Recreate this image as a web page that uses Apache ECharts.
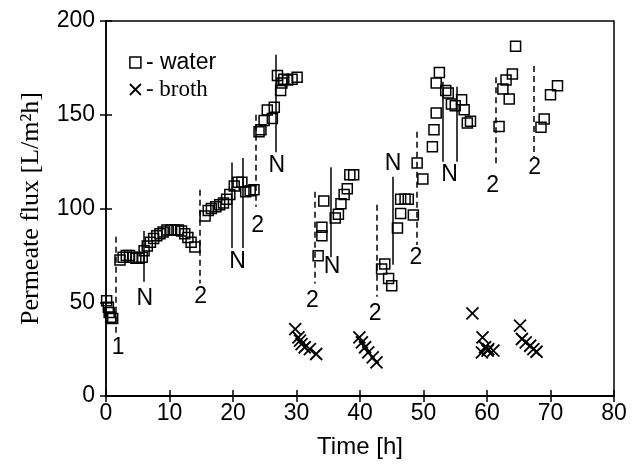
<!DOCTYPE html>
<html>
<head>
<meta charset="utf-8">
<script src="https://cdn.jsdelivr.net/npm/echarts@6/dist/echarts.min.js"></script>
<style>html,body{margin:0;padding:0;background:#fff;}#c{width:632px;height:468px;}</style>
</head>
<body>
<div id="c"></div>
<script>
// Water (permeate flux of water) data
const waterX = [0.1,0.37,0.5,0.74,1.05,
  2.2,2.7,3.2,3.7,4.2,4.7,5.2,5.7,6.0,6.5,7.0,7.5,8.0,8.5,9.0,9.6,10.2,10.8,11.4,11.9,12.4,12.9,13.4,14.0,
  15.6,16.1,16.6,17.3,17.9,18.5,19.0,19.5,20.2,20.8,21.4,22.0,22.7,23.3,
  24.1,24.4,24.9,25.4,26.2,26.5,27.0,27.5,27.7,28.0,28.6,29.3,30.1,
  33.4,34.0,34.0,34.3,36.1,36.6,37.0,37.5,38.0,38.4,39.0,
  43.4,43.9,44.5,45.0,45.9,46.4,46.4,47.1,47.6,48.4,49.0,49.9,
  51.4,51.65,52.0,52.0,52.5,53.5,53.9,54.4,55.0,56.0,56.4,56.9,57.4,
  61.9,62.5,63.0,63.5,64.0,64.5,
  68.5,69.0,70.0,71.1];
const waterY = [50.8,47.3,44.6,42,41.4,
  72.5,74,75,75,74,73.5,73.5,74,77.5,80,82,84,85.5,86.5,87.5,88.5,88.5,88.5,88.5,88,86.5,84.5,82,79.5,
  96,99,100,101,102,103,105,107.5,112,114,114,109,109.5,110,
  141,142,147,152.5,148,154,171,163,167,169,168.5,169,170,
  74.8,85.5,90,104,95,97,102.5,107.5,110.5,118,118,
  67.7,70.4,62.7,58.8,89.6,97.4,105,105,105,96.5,124.3,115.7,
  133,142,151,167,172.6,163,161.6,155.7,154.8,158,152.7,145.6,146.5,
  143.8,163.7,168.5,158.4,171.7,186.5,
  143.3,147.7,160.7,165.5];
// Broth data
const brothX = [29.8,30.3,30.55,30.8,31.3,32.1,33.1,
  39.9,40.3,40.8,41.3,42.0,42.6,
  57.7,59.3,59.2,59.7,60.1,60.2,61.0,
  65.2,65.5,66.1,66.8,67.3,67.8];
const brothY = [35.7,31.3,29.5,27.7,26,25,22.4,
  31.3,28.6,26,23.3,20.6,17.9,
  44.1,31.3,23.3,26,24.2,25,24.2,
  37.5,30.4,28.6,26.8,25,23.6];
// Cleaning annotation lines (dashed = chemical cleaning, solid = N)
const annoX  = [1.6, 6.0, 14.7, 19.8, 21.6, 23.6, 26.8, 32.8, 35.4, 42.6, 45.2, 48.9, 53.0, 55.2, 61.3, 67.4];
const annoY1 = [85, 88, 110, 124.5, 127, 150, 182, 109, 122, 102, 117, 141, 167.6, 165, 170, 176];
const annoY2 = [33, 61, 60, 79, 79, 101, 130, 60, 74, 53, 70, 80.5, 125, 125, 122, 127.5];
const annoDashed = [true,false,true,false,false,true,false,true,false,true,false,true,false,false,true,true];
// Annotation labels
const labelText = ['1','N','2','N','2','N','2','N','2','N','2','N','2','2'];
const labelX = [1.9, 6.1, 14.9, 20.7, 23.9, 26.9, 32.5, 35.6, 42.4, 45.2, 48.8, 54.1, 60.9, 67.5];
const labelY = [25.6, 52, 53, 71.5, 91, 123, 51, 69, 44, 124, 73.6, 118, 112, 121.6];
// Axis ticks
const xMin = 0, xMax = 80, xStep = 10;
const yMin = 0, yMax = 200, yStep = 50;

const chart = echarts.init(document.getElementById('c'), null, {renderer: 'canvas'});
const sans = '"Liberation Sans", Arial, sans-serif';
const serif = '"Liberation Serif", "Times New Roman", serif';

const markLines = annoX.map((x, i) => [
  {coord: [x, annoY1[i]], lineStyle: {type: annoDashed[i] ? [6, 4] : 'solid', width: 1.5, color: '#000', opacity: 1}},
  {coord: [x, annoY2[i]]}
]);

const crossPath = 'path://M0,0L10,10M10,0L0,10';

const option = {
  animation: false,
  backgroundColor: '#fff',
  grid: {left: 106, right: 18, top: 21, bottom: 72, show: true, borderColor: '#000', borderWidth: 1.5},
  legend: {
    orient: 'vertical', left: 124, top: 46, itemGap: 4, itemWidth: 11, itemHeight: 11,
    selectedMode: false,
    data: [
      {name: 'water', icon: 'rect', itemStyle: {color: 'transparent', borderColor: '#000', borderWidth: 1.5}},
      {name: 'broth', icon: crossPath, itemStyle: {color: 'transparent', borderColor: '#000', borderWidth: 1.8}}
    ],
    formatter: n => n === 'water' ? '{a|- water}' : '{b|- broth}',
    textStyle: {
      rich: {
        a: {fontFamily: sans, fontSize: 23, color: '#000'},
        b: {fontFamily: serif, fontSize: 23, color: '#000'}
      }
    }
  },
  xAxis: [{
    type: 'value', min: xMin, max: xMax, interval: xStep,
    name: 'Time [h]', nameLocation: 'middle', nameGap: 39,
    nameTextStyle: {fontFamily: sans, fontSize: 24, color: '#000'},
    axisLine: {show: true, lineStyle: {color: '#000', width: 2}},
    axisTick: {show: true, inside: false, length: 6, lineStyle: {color: '#000', width: 1.5}},
    axisLabel: {fontFamily: sans, fontSize: 23, color: '#000', margin: 6},
    splitLine: {show: false}
  }, {
    type: 'value', min: xMin, max: xMax, interval: xStep, position: 'bottom',
    axisLine: {show: false},
    axisTick: {show: true, inside: true, length: 6, lineStyle: {color: '#000', width: 1.5}},
    axisLabel: {show: false}, splitLine: {show: false}
  }],
  yAxis: [{
    type: 'value', min: yMin, max: yMax, interval: yStep,
    name: 'Permeate flux [L/m²h]', nameLocation: 'middle', nameGap: 62,
    nameTextStyle: {fontFamily: serif, fontSize: 26, color: '#000'},
    axisLine: {show: true, lineStyle: {color: '#000', width: 1.5}},
    axisTick: {show: true, inside: false, length: 6, lineStyle: {color: '#000', width: 1.5}},
    axisLabel: {fontFamily: sans, fontSize: 23, color: '#000', margin: 11},
    splitLine: {show: false}
  }, {
    type: 'value', min: yMin, max: yMax, interval: yStep, position: 'left',
    axisLine: {show: false},
    axisTick: {show: true, inside: true, length: 6, lineStyle: {color: '#000', width: 1.5}},
    axisLabel: {show: false}, splitLine: {show: false}
  }],
  series: [
    {
      name: 'water', type: 'scatter', symbol: 'rect', symbolSize: 10,
      itemStyle: {color: 'transparent', borderColor: '#000', borderWidth: 1.5, opacity: 1},
      data: waterX.map((x, i) => [x, waterY[i]]), z: 3
    },
    {
      name: 'broth', type: 'scatter', symbol: crossPath, symbolSize: 12,
      itemStyle: {color: 'transparent', borderColor: '#000', borderWidth: 1.8, opacity: 1},
      data: brothX.map((x, i) => [x, brothY[i]]), z: 3
    },
    {
      name: 'labels', type: 'scatter', symbolSize: 0, silent: true,
      itemStyle: {color: '#000', opacity: 1},
      data: labelX.map((x, i) => ({value: [x, labelY[i]], name: labelText[i]})),
      label: {show: true, position: 'inside', formatter: p => p.name, fontFamily: sans, fontSize: 23, color: '#000', opacity: 1},
      markLine: {silent: true, symbol: ['none', 'none'], label: {show: false}, data: markLines, animation: false},
      z: 2
    }
  ]
};
chart.setOption(option);
</script>
</body>
</html>
